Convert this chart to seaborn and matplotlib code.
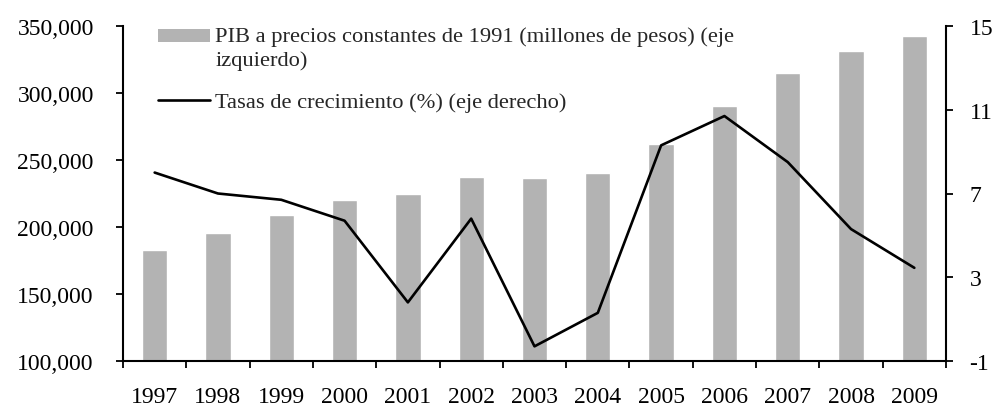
import numpy as np
import pandas as pd
import matplotlib
matplotlib.use("Agg")
import matplotlib.pyplot as plt
import seaborn as sns
from matplotlib.ticker import FuncFormatter, FixedLocator
from matplotlib.patches import Rectangle, Patch
from matplotlib.legend_handler import HandlerPatch

years = ["1997", "1998", "1999", "2000", "2001", "2002", "2003",
         "2004", "2005", "2006", "2007", "2008", "2009"]
pib = [182800, 195500, 208700, 220400, 224400, 237300, 236900,
       240300, 262200, 290000, 314700, 331300, 342500]
growth = [8.0, 7.0, 6.7, 5.7, 1.8, 5.8, -0.3, 1.3, 9.3, 10.7, 8.5, 5.3, 3.45]

label_bar = "PIB a precios constantes de 1991 (millones de pesos) (eje\nizquierdo)"
label_line = "Tasas de crecimiento (%) (eje derecho)"

sns.set_theme(style="white")
plt.rcParams["font.family"] = ["Liberation Serif", "DejaVu Serif"]
plt.rcParams["axes.unicode_minus"] = False

df = pd.DataFrame({"year": years, "pib": pib, "growth": growth})

fig = plt.figure(figsize=(9.96, 4.10), dpi=100)
ax = fig.add_axes([123/996, 1 - 362/410, (946-123)/996, (362-27)/410])

sns.barplot(data=df, x="year", y="pib", color="#b3b3b3", saturation=1,
            width=0.4, ax=ax, label=label_bar)
if ax.get_legend() is not None:
    ax.get_legend().remove()
ax.set_ylim(100000, 350000)
ax.set_yticks(np.arange(100000, 350001, 50000))
ax.yaxis.set_major_formatter(FuncFormatter(lambda v, p: f"{int(v):,}"))
ax.set_xlabel("")
ax.set_ylabel("")

ax2 = ax.twinx()
pos = np.arange(len(years))
sns.lineplot(x=pos, y=df["growth"], color="black", linewidth=1.9, ax=ax2,
             label=label_line, legend=False)
ax2.set_ylim(-1, 15)
ax2.set_yticks([-1, 3, 7, 11, 15])
ax2.set_ylabel("")
ax.set_xlim(-0.5, len(years) - 0.5)

# x ticks: boundaries as tick marks, labels at centres
ax.xaxis.set_major_locator(FixedLocator(pos))
ax.set_xticklabels(years)
ax.xaxis.set_minor_locator(FixedLocator(np.arange(len(years) + 1) - 0.5))
ax.tick_params(axis="x", which="major", length=0, pad=18, labelsize=17, colors="black")
ax.tick_params(axis="x", which="minor", length=5, width=1.3, color="black", bottom=True)
ax.tick_params(axis="y", which="major", length=5, width=1.3, pad=16,
               labelsize=17, colors="black", left=True)
ax2.tick_params(axis="y", which="major", length=5, width=1.3, pad=12,
                labelsize=17, colors="black", right=True)

for a in (ax, ax2):
    for s in a.spines.values():
        s.set_color("black")
        s.set_linewidth(1.5)
    a.spines["top"].set_visible(False)
ax.spines["right"].set_visible(False)
ax2.spines["left"].set_visible(False)
ax2.spines["bottom"].set_visible(False)
ax.grid(False)
ax2.grid(False)

LEG_FS = 16.2
SHIFT = 0.5 * LEG_FS  # raise the bar swatch to the first label line


def top_patch(legend, orig_handle, xdescent, ydescent, width, height, fontsize):
    return Rectangle((-xdescent, -ydescent + SHIFT), width, height)


bar_handle = Patch(facecolor="#b3b3b3", edgecolor="none")
h2, l2 = ax2.get_legend_handles_labels()
leg = ax2.legend([bar_handle] + h2, [label_bar] + l2, loc="upper left",
                 bbox_to_anchor=(0.0425, 1.0),
                 frameon=False, fontsize=LEG_FS, borderpad=0, borderaxespad=0,
                 handlelength=2.3, handleheight=0.5, handletextpad=0.25,
                 labelspacing=1.0,
                 handler_map={Patch: HandlerPatch(patch_func=top_patch)})
for t in leg.get_texts():
    t.set_linespacing(1.3)

fig.savefig("out.png", dpi=100)
